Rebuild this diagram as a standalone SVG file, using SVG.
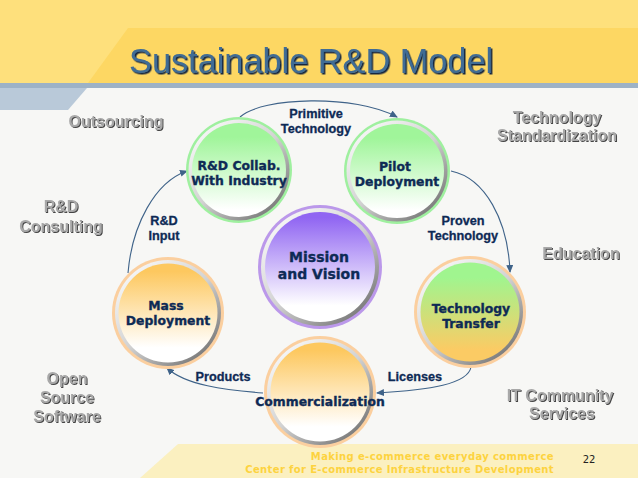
<svg xmlns="http://www.w3.org/2000/svg" width="638" height="478" viewBox="0 0 638 478">
<style>
.side{font:bold 16px "Liberation Sans",Arial,sans-serif;fill:#a8a8a8;text-anchor:middle;filter:url(#sideShadow)}
.node{font:bold 12.4px "DejaVu Sans",Verdana,sans-serif;fill:#0e2a55;text-anchor:middle;stroke:#0e2a55;stroke-width:.35}
.mission{font:bold 14px "DejaVu Sans",Verdana,sans-serif;fill:#0e2a55;text-anchor:middle;stroke:#0e2a55;stroke-width:.35}
.edge{font:bold 12.7px "Liberation Sans",Arial,sans-serif;fill:#0e2a55;text-anchor:middle;stroke:#0e2a55;stroke-width:.3}
.foot{font:bold 10px "DejaVu Sans",Verdana,sans-serif;fill:#fdd33f;text-anchor:end;letter-spacing:.37px}
.conn{fill:none;stroke:#3f6389;stroke-width:1.1;marker-end:url(#arrow)}
.ringG{fill:#9ff09f}.ringO{fill:#fbcf9f}.ringP{fill:#bb98ea}
.rim{fill:url(#rim)}
</style>
<defs>
<marker id="arrow" markerUnits="userSpaceOnUse" markerWidth="8" markerHeight="7" refX="7" refY="3.5" orient="auto"><path d="M0 0L8 3.5L0 7Z" fill="#3f6389"/></marker>
<filter id="sideShadow" x="-10%" y="-20%" width="120%" height="150%"><feDropShadow dx="1" dy="1" stdDeviation=".4" flood-color="#444"/></filter>
<filter id="titleShadow" x="-5%" y="-10%" width="110%" height="130%"><feDropShadow dx="1.5" dy="1.5" stdDeviation=".3" flood-color="#14283f"/></filter>
<linearGradient id="rim" x1=".15" y1=".1" x2=".85" y2=".9"><stop offset="0" stop-color="#f6f6f6"/><stop offset=".5" stop-color="#d2d2d2"/><stop offset="1" stop-color="#7a7a7a"/></linearGradient>
<linearGradient id="green" x1="0" y1="0" x2="0" y2="1"><stop offset=".15" stop-color="#a0f59a"/><stop offset=".92" stop-color="#fff"/></linearGradient>
<linearGradient id="orange" x1="0" y1="0" x2="0" y2="1"><stop offset=".08" stop-color="#fdc85f"/><stop offset=".85" stop-color="#fff"/></linearGradient>
<linearGradient id="purple" x1="0" y1="0" x2="0" y2="1"><stop offset=".05" stop-color="#9065f2"/><stop offset=".85" stop-color="#fff"/></linearGradient>
<linearGradient id="greenOrange" x1="0" y1="0" x2="0" y2="1"><stop offset=".15" stop-color="#a0f58f"/><stop offset=".88" stop-color="#fbcb64"/></linearGradient>
</defs>
<rect width="638" height="478" fill="#f7f7f5"/>
<rect width="638" height="83" fill="#fee07c"/>
<path d="M88 83L128 28H638V83Z" fill="#fdd763"/>
<rect y="83" width="638" height="5" fill="#9db2c6"/>
<path d="M0 88H87L68 110H0Z" fill="#b9c9d9"/>
<path d="M140 478L178 444H638V478Z" fill="#fbf0c0"/>
<text x="129" y="73" font-family="Liberation Sans,Arial,sans-serif" font-size="34.3" fill="#3f6c95" filter="url(#titleShadow)">Sustainable R&amp;D Model</text>

<g id="connectors">
<path class="conn" d="M240 117C262 97 355 94 397 117"/>
<path class="conn" d="M451 171C485 178 508 220 510 272"/>
<path class="conn" d="M471 367C468 384 430 390 377 393"/>
<path class="conn" d="M263 393C225 390 185 385 167 368"/>
<path class="conn" d="M128 273C132 225 155 182 187 171"/>
</g>

<g id="node-collab"><circle cx="239" cy="170" r="53" class="ringG"/><circle cx="239" cy="170" r="50.5" class="rim"/><circle cx="239" cy="170" r="47" fill="url(#green)"/><text class="node" x="239" y="170">R&amp;D Collab.</text><text class="node" x="239" y="185">With Industry</text></g>
<g id="node-pilot"><circle cx="397" cy="171" r="53" class="ringG"/><circle cx="397" cy="171" r="50.5" class="rim"/><circle cx="397" cy="171" r="47" fill="url(#green)"/><text class="node" x="395" y="171">Pilot</text><text class="node" x="397" y="186">Deployment</text></g>
<g id="node-mission"><circle cx="320" cy="267" r="62" class="ringP"/><circle cx="320" cy="267" r="59" class="rim"/><circle cx="320" cy="267" r="55" fill="url(#purple)"/><text class="mission" x="319" y="262">Mission</text><text class="mission" x="319" y="279">and Vision</text></g>
<g id="node-mass"><circle cx="168" cy="313" r="56" class="ringO"/><circle cx="168" cy="313" r="53" class="rim"/><circle cx="168" cy="313" r="49.5" fill="url(#orange)"/><text class="node" x="166" y="310">Mass</text><text class="node" x="168" y="325">Deployment</text></g>
<g id="node-transfer"><circle cx="470" cy="312" r="56" class="ringO"/><circle cx="470" cy="312" r="53" class="rim"/><circle cx="470" cy="312" r="49.5" fill="url(#greenOrange)"/><text class="node" x="471" y="313">Technology</text><text class="node" x="471" y="328">Transfer</text></g>
<g id="node-commercial"><circle cx="320" cy="392" r="56" class="ringO"/><circle cx="320" cy="392" r="53" class="rim"/><circle cx="320" cy="392" r="49.5" fill="url(#orange)"/><text class="node" x="320" y="406">Commercialization</text></g>

<g id="edge-labels">
<text class="edge" x="316" y="118">Primitive</text><text class="edge" x="316" y="133">Technology</text>
<text class="edge" x="463" y="225">Proven</text><text class="edge" x="463" y="240">Technology</text>
<text class="edge" x="164" y="225">R&amp;D</text><text class="edge" x="164" y="240">Input</text>
<text class="edge" x="223" y="381">Products</text>
<text class="edge" x="415" y="381">Licenses</text>
</g>
<g id="side-labels">
<text class="side" x="116" y="127">Outsourcing</text>
<text class="side" x="557" y="123">Technology</text><text class="side" x="557" y="141">Standardization</text>
<text class="side" x="61" y="212">R&amp;D</text><text class="side" x="61" y="232">Consulting</text>
<text class="side" x="581" y="259">Education</text>
<text class="side" x="67" y="384">Open</text><text class="side" x="67" y="403">Source</text><text class="side" x="67" y="422">Software</text>
<text class="side" x="560" y="401">IT Community</text><text class="side" x="562" y="419">Services</text>
</g>
<text class="foot" x="554" y="460">Making e-commerce everyday commerce</text>
<text class="foot" x="554" y="472.5">Center for E-commerce Infrastructure Development</text>
<text x="589" y="463" font-family="DejaVu Sans,sans-serif" font-size="10" fill="#222" text-anchor="middle">22</text>
</svg>
